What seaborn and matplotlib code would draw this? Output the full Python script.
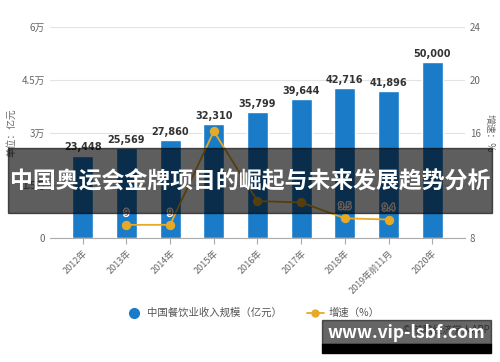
import matplotlib
matplotlib.use("Agg")
import matplotlib.pyplot as plt
import seaborn as sns
import pandas as pd
from matplotlib.patches import Rectangle
import matplotlib.patheffects as pe

# 数据
years = ["2012年", "2013年", "2014年", "2015年", "2016年", "2017年", "2018年", "2019年前11月", "2020年"]
revenue = [23448, 25569, 27860, 32310, 35799, 39644, 42716, 41896, 50000]
growth_years = ["2013年", "2014年", "2015年", "2016年", "2017年", "2018年", "2019年前11月"]
growth = [9.0, 9.0, 16.1, 10.8, 10.7, 9.5, 9.4]
growth_labels = ["9", "9", "", "", "", "9.5", "9.4"]
left_ticks = [0, 15000, 30000, 45000, 60000]
left_ticklabels = ["0", "1.5万", "3万", "4.5万", "6万"]
right_ticks = [8, 12, 16, 20, 24]

sns.set_style("white")
plt.rcParams["font.family"] = ["Noto Sans CJK SC", "DejaVu Sans"]

blue = "#1a7cc9"
gold = "#e8a925"

fig = plt.figure(figsize=(5, 3.62), dpi=100)
ax = fig.add_axes([0.1, 0.3425, 0.83, 0.5825])

df = pd.DataFrame({"year": years, "revenue": revenue})
sns.barplot(data=df, x="year", y="revenue", color=blue, width=0.48,
            saturation=1, ax=ax, zorder=2)
ax.set_xlim(-0.75, 8.75)
ax.set_ylim(0, 60000)
ax.set_yticks(left_ticks)
ax.set_yticklabels(left_ticklabels)
ax.grid(axis="y", color="#e3e3e3", linewidth=0.8, zorder=0)
ax.set_axisbelow(True)
for s in ["top", "right", "left"]:
    ax.spines[s].set_visible(False)
ax.spines["bottom"].set_color("#aaaaaa")
ax.tick_params(axis="x", length=4, color="#aaaaaa", labelsize=6.5, labelcolor="#666666",
               rotation=45, bottom=True)
for lab in ax.get_xticklabels():
    lab.set_ha("right")
    lab.set_rotation_mode("anchor")
ax.tick_params(axis="y", length=0, labelsize=7, labelcolor="#666666")
ax.set_xlabel("")
ax.set_ylabel("单位：亿元", fontsize=7, color="#666666", labelpad=4)

for i, v in enumerate(revenue):
    ax.text(i, v + 900, f"{v:,}", ha="center", va="bottom", fontsize=7,
            fontweight="bold", color="#333333", family="DejaVu Sans")

ax2 = ax.twinx()
pos = [years.index(y) for y in growth_years]
gdf = pd.DataFrame({"x": pos, "g": growth})
sns.lineplot(data=gdf, x="x", y="g", color=gold, marker="o", markersize=6,
             markeredgecolor=gold, linewidth=1.3, ax=ax2, zorder=3)
ax2.set_ylim(8, 24)
ax2.set_yticks(right_ticks)
ax2.tick_params(axis="y", length=0, labelsize=7, labelcolor="#666666")
for s in ["top", "right", "left", "bottom"]:
    ax2.spines[s].set_visible(False)
ax2.set_xlim(-0.75, 8.75)
ax2.set_xlabel("")
ax2.set_ylabel("增速：%", fontsize=7, color="#666666", rotation=270, labelpad=10)
for x, g, t in zip(pos, growth, growth_labels):
    if t:
        ax2.text(x, g + 0.55, t, ha="center", va="bottom", fontsize=6.5, color="#555555",
                 path_effects=[pe.withStroke(linewidth=2, foreground="white")])

# 图例
h1 = plt.Line2D([], [], color=blue, marker="o", linestyle="none", markersize=7)
h2 = plt.Line2D([], [], color=gold, marker="o", markersize=5, linewidth=1.3)
fig.legend([h1, h2], ["中国餐饮业收入规模（亿元）", "增速（%）"], loc="center",
           bbox_to_anchor=(0.505, 1 - 313 / 362), ncol=2, frameon=False, fontsize=7.5,
           handlelength=1.6, handletextpad=0.5, columnspacing=2.4, labelcolor="#555555")

# 标题横幅
fig.patches.append(Rectangle((0.016, 1 - 213 / 362), 0.968, 65 / 362,
                             transform=fig.transFigure, color="black", alpha=0.63, zorder=5))
fig.text(0.5, 1 - 182 / 362, "中国奥运会金牌项目的崛起与未来发展趋势分析", ha="center",
         va="center", color="white", fontsize=16.5, fontweight="bold", zorder=6)

# 右下角
fig.text(0.98, 1 - 330 / 362, "© 前瞻经济学人APP", ha="right", va="center",
         fontsize=7, color="#777777", zorder=4)
fig.patches.append(Rectangle((0.644, 1 - 344 / 362), 0.338, 24 / 362,
                             transform=fig.transFigure, color="black", alpha=0.6, zorder=5))
fig.patches.append(Rectangle((0.644, 1 - 353 / 362), 0.338, 9 / 362,
                             transform=fig.transFigure, color="black", zorder=5))
fig.text(0.813, 1 - 333 / 362, "www.vip-lsbf.com", ha="center", va="center",
         color="white", fontsize=12.5, fontweight="bold", zorder=6)

fig.savefig("out.png", dpi=100)
